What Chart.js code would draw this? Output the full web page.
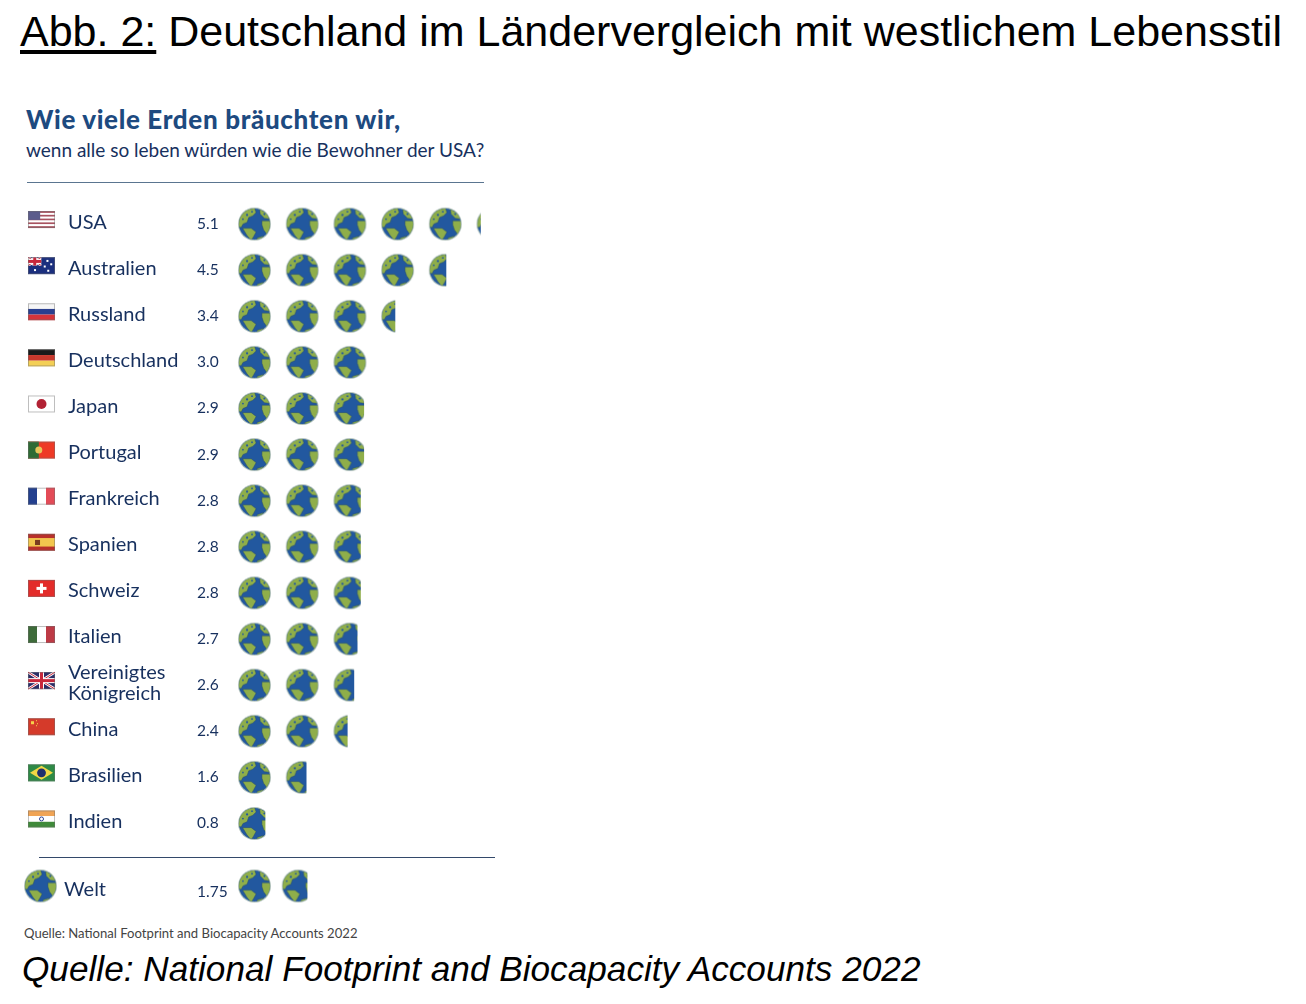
<!DOCTYPE html>
<html lang="de">
<head>
<meta charset="utf-8">
<title>Abb. 2</title>
<script src="https://cdn.jsdelivr.net/npm/chart.js@4"></script>
<style>
  html, body { margin: 0; background: #fff; }
  body { position: relative; width: 1306px; height: 1004px; overflow: hidden; }
  canvas, .txt, .rule { position: absolute; }
  .txt { white-space: nowrap; line-height: 1; }
  .rule { height: 1px; }
  #head { left: 20px; top: 7px; font: 43px "Liberation Sans", sans-serif; color: #000; }
  #head u { text-underline-offset: 4px; }
  #foot { left: 22px; top: 949px; font: italic 35.2px "Liberation Sans", sans-serif; color: #000; }
  #title { left: 26px; top: 103px; font: 900 26px Lato, sans-serif; color: #1d4a80; letter-spacing: 0.65px; }
  #sub { left: 26px; top: 138px; font: 19px Lato, sans-serif; color: #17305e; }
  #src { left: 24px; top: 925px; font: 13.1px Lato, sans-serif; color: #444; }
  #rule1 { left: 27px; top: 182px; width: 457px; background: #5a7590; }
  #rule2 { left: 39px; top: 857px; width: 456px; background: #33496a; }
</style>
</head>
<body>
<div class="txt" id="head"><u>Abb. 2:</u> Deutschland im Ländervergleich mit westlichem Lebensstil</div>
<div class="txt" id="title">Wie viele Erden bräuchten wir,</div>
<div class="txt" id="sub">wenn alle so leben würden wie die Bewohner der USA?</div>
<div class="rule" id="rule1"></div>
<canvas id="mainChart" width="520" height="860" style="left:0;top:0"></canvas>
<div class="rule" id="rule2"></div>
<canvas id="worldChart" width="520" height="46" style="left:0;top:863px"></canvas>
<div class="txt" id="src">Quelle: National Footprint and Biocapacity Accounts 2022</div>
<div class="txt" id="foot">Quelle: National Footprint and Biocapacity Accounts 2022</div>

<script>
var countries = ["USA", "Australien", "Russland", "Deutschland", "Japan", "Portugal", "Frankreich",
  "Spanien", "Schweiz", "Italien", ["Vereinigtes", "Königreich"], "China", "Brasilien", "Indien"];
var earths = [5.1, 4.5, 3.4, 3.0, 2.9, 2.9, 2.8, 2.8, 2.8, 2.7, 2.6, 2.4, 1.6, 0.8];
var flagCodes = ["us", "au", "ru", "de", "jp", "pt", "fr", "es", "ch", "it", "gb", "cn", "br", "in"];
var worldLabels = ["Welt"];
var worldEarths = [1.75];

var LABEL_COLOR = "#17305e";
var GLOBE = 33;

// one earth, drawn once and stamped for every unit
var globeImg = makeGlobe();

function makeGlobe() {
  var c = document.createElement("canvas");
  c.width = c.height = GLOBE + 2;
  var g = c.getContext("2d");
  var r = GLOBE / 2;
  g.filter = "blur(0.4px)";
  g.translate(c.width / 2, c.height / 2);
  g.beginPath();
  g.arc(0, 0, r, 0, Math.PI * 2);
  g.fillStyle = "#aebfb8";
  g.fill();
  g.beginPath();
  g.arc(0, 0, r - 1, 0, Math.PI * 2);
  g.fillStyle = "#22589f";
  g.fill();
  g.clip();
  var land = [
    [[-1, -0.1], [-0.85, -0.6], [-0.45, -0.9], [0, -0.98], [0.1, -0.7], [-0.1, -0.5], [-0.35, -0.4], [-0.45, -0.1], [-0.7, 0], [-0.8, 0.2], [-1, 0.2]],
    [[0.3, -0.92], [0.75, -0.65], [0.98, -0.3], [0.6, -0.35], [0.35, -0.6]],
    [[0.45, -0.2], [1, -0.2], [1, 0.5], [0.75, 0.62], [0.55, 0.35], [0.45, 0.05]],
    [[-0.72, 0.25], [-0.2, 0.25], [0.1, 0.48], [-0.05, 0.75], [-0.2, 1], [-0.45, 0.7]],
    [[0.15, 0.85], [0.55, 0.72], [0.4, 1], [0.15, 1]]
  ];
  land.forEach(function (poly) {
    g.beginPath();
    poly.forEach(function (p, i) {
      if (i === 0) g.moveTo(p[0] * r, p[1] * r);
      else g.lineTo(p[0] * r, p[1] * r);
    });
    g.closePath();
    g.fillStyle = "#8fae4a";
    g.fill();
    g.lineWidth = 0.5;
    g.strokeStyle = "#2a4f6a";
    g.stroke();
  });
  // small inlets in the northern land
  g.fillStyle = "#22589f";
  [[-0.45, -0.55, 1.1], [-0.15, -0.75, 0.9], [-0.7, -0.3, 0.9], [0.6, -0.6, 1]].forEach(function (d) {
    g.beginPath();
    g.arc(d[0] * r, d[1] * r, d[2], 0, Math.PI * 2);
    g.fill();
  });
  return c;
}

function rect(ctx, color, x, y, w, h) {
  ctx.fillStyle = color;
  ctx.fillRect(x, y, w, h);
}

function stripesH(ctx, colors, x, y, w, h) {
  colors.forEach(function (col, i) {
    rect(ctx, col, x, y + i * h / colors.length, w, h / colors.length);
  });
}

function stripesV(ctx, colors, x, y, w, h) {
  colors.forEach(function (col, i) {
    rect(ctx, col, x + i * w / colors.length, y, w / colors.length, h);
  });
}

function unionJack(ctx, x, y, w, h) {
  rect(ctx, "#2b2c66", x, y, w, h);
  ctx.strokeStyle = "#fff";
  ctx.lineWidth = 2.6;
  ctx.beginPath();
  ctx.moveTo(x, y); ctx.lineTo(x + w, y + h);
  ctx.moveTo(x + w, y); ctx.lineTo(x, y + h);
  ctx.stroke();
  ctx.strokeStyle = "#c8283c";
  ctx.lineWidth = 1;
  ctx.stroke();
  rect(ctx, "#fff", x + w / 2 - 2.5, y, 5, h);
  rect(ctx, "#fff", x, y + h / 2 - 2.5, w, 5);
  rect(ctx, "#c8283c", x + w / 2 - 1.5, y, 3, h);
  rect(ctx, "#c8283c", x, y + h / 2 - 1.5, w, 3);
}

var flags = {
  us: function (ctx, x, y, w, h) {
    stripesH(ctx, ["#a8525f", "#fff", "#a8525f", "#fff", "#a8525f", "#fff", "#a8525f", "#fff", "#a8525f"], x, y, w, h);
    rect(ctx, "#5b5c8c", x, y, w * 0.45, h * 0.52);
  },
  au: function (ctx, x, y, w, h) {
    rect(ctx, "#1b2f7e", x, y, w, h);
    ctx.save();
    ctx.beginPath();
    ctx.rect(x, y, w * 0.5, h * 0.5);
    ctx.clip();
    unionJack(ctx, x, y, w * 0.5, h * 0.5);
    ctx.restore();
    [[0.72, 0.22], [0.86, 0.42], [0.62, 0.55], [0.75, 0.8], [0.26, 0.76]].forEach(function (s) {
      rect(ctx, "#fff", x + s[0] * w - 1, y + s[1] * h - 1, 2, 2);
    });
  },
  ru: function (ctx, x, y, w, h) {
    stripesH(ctx, ["#f6f6f6", "#2a3f8f", "#d5343a"], x, y, w, h);
  },
  de: function (ctx, x, y, w, h) {
    stripesH(ctx, ["#1a1a1a", "#c8382c", "#f3cf55"], x, y, w, h);
  },
  jp: function (ctx, x, y, w, h) {
    rect(ctx, "#fff", x, y, w, h);
    ctx.fillStyle = "#b22234";
    ctx.beginPath();
    ctx.arc(x + w / 2, y + h / 2, 5, 0, Math.PI * 2);
    ctx.fill();
  },
  pt: function (ctx, x, y, w, h) {
    rect(ctx, "#ee3a26", x, y, w, h);
    rect(ctx, "#2f6b34", x, y, w * 0.4, h);
    ctx.fillStyle = "#e8c65a";
    ctx.beginPath();
    ctx.arc(x + w * 0.4, y + h / 2, 3.5, 0, Math.PI * 2);
    ctx.fill();
  },
  fr: function (ctx, x, y, w, h) {
    stripesV(ctx, ["#23408f", "#fff", "#e34b57"], x, y, w, h);
  },
  es: function (ctx, x, y, w, h) {
    rect(ctx, "#b8302a", x, y, w, h);
    rect(ctx, "#f2c64e", x, y + h * 0.25, w, h * 0.5);
    rect(ctx, "#7a3b20", x + w * 0.26, y + h * 0.36, 5, h * 0.3);
  },
  ch: function (ctx, x, y, w, h) {
    rect(ctx, "#e32c2a", x, y, w, h);
    rect(ctx, "#fff", x + w / 2 - 5, y + h / 2 - 1.5, 10, 3);
    rect(ctx, "#fff", x + w / 2 - 1.5, y + h / 2 - 5, 3, 10);
  },
  it: function (ctx, x, y, w, h) {
    stripesV(ctx, ["#3e6b3a", "#fff", "#bd3a45"], x, y, w, h);
  },
  gb: unionJack,
  cn: function (ctx, x, y, w, h) {
    rect(ctx, "#d53a2a", x, y, w, h);
    rect(ctx, "#f5d24a", x + 3, y + 3, 3, 3);
    rect(ctx, "#f5d24a", x + 8, y + 2, 1, 1);
    rect(ctx, "#f5d24a", x + 9, y + 5, 1, 1);
    rect(ctx, "#f5d24a", x + 8, y + 7, 1, 1);
  },
  br: function (ctx, x, y, w, h) {
    rect(ctx, "#2d8a45", x, y, w, h);
    ctx.fillStyle = "#f0d745";
    ctx.beginPath();
    ctx.moveTo(x + 2, y + h / 2);
    ctx.lineTo(x + w / 2, y + 1.5);
    ctx.lineTo(x + w - 2, y + h / 2);
    ctx.lineTo(x + w / 2, y + h - 1.5);
    ctx.closePath();
    ctx.fill();
    ctx.fillStyle = "#1f2f6e";
    ctx.beginPath();
    ctx.arc(x + w / 2, y + h / 2, 4.4, 0, Math.PI * 2);
    ctx.fill();
  },
  in: function (ctx, x, y, w, h) {
    stripesH(ctx, ["#f0a455", "#fff", "#3f8a3a"], x, y, w, h);
    ctx.strokeStyle = "#2a3f8f";
    ctx.lineWidth = 1;
    ctx.beginPath();
    ctx.arc(x + w / 2, y + h / 2, 2, 0, Math.PI * 2);
    ctx.stroke();
  }
};

// stamps the earths along the x scale, the last one cut by the fraction of the value
var earthRows = {
  id: "earthRows",
  afterDatasetsDraw: function (chart, args, opts) {
    var ctx = chart.ctx;
    var xs = chart.scales.x;
    var values = chart.data.datasets[0].data;
    chart.getDatasetMeta(0).data.forEach(function (bar, i) {
      var v = values[i];
      for (var n = 0; n < v; n++) {
        var left = xs.getPixelForValue(n);
        var frac = Math.min(1, v - n);
        ctx.save();
        ctx.beginPath();
        ctx.rect(left - 1, bar.y - GLOBE, frac * GLOBE + 2, GLOBE * 2);
        ctx.clip();
        ctx.drawImage(globeImg, left - 1, bar.y - GLOBE / 2 - 1);
        ctx.restore();
      }
      // value column
      ctx.font = "15.5px Lato, sans-serif";
      ctx.fillStyle = LABEL_COLOR;
      ctx.textAlign = "left";
      ctx.textBaseline = "middle";
      ctx.fillText(opts.format(v), opts.valueX, bar.y + opts.textShift);
      // flag or world icon in front of the label
      var code = opts.codes && opts.codes[i];
      if (code) {
        ctx.save();
        ctx.filter = "blur(0.3px)";
        flags[code](ctx, 28, bar.y - 13, 27, 17);
        ctx.strokeStyle = "rgba(110,110,110,0.45)";
        ctx.lineWidth = 1;
        ctx.strokeRect(28.5, bar.y - 12.5, 26, 16);
        ctx.restore();
      } else if (!opts.codes) {
        ctx.drawImage(globeImg, 23, bar.y - GLOBE / 2 - 1);
      }
    });
  }
};

function pictoChart(id, labels, values, leftPad, unit, paddingTop, paddingBottom, labelShift, codes, format) {
  var axisWidth = 238 - leftPad;
  var xMax = 5.5;
  return new Chart(document.getElementById(id), {
    type: "bar",
    data: {
      labels: labels,
      datasets: [{ data: values, backgroundColor: "rgba(0,0,0,0)", barThickness: GLOBE }]
    },
    options: {
      indexAxis: "y",
      responsive: false,
      animation: false,
      layout: { padding: { left: leftPad, right: 520 - 238 - unit * xMax, top: paddingTop, bottom: paddingBottom } },
      scales: {
        x: { display: false, min: 0, max: xMax },
        y: {
          grid: { display: false },
          border: { display: false },
          afterFit: function (scale) { scale.width = axisWidth; },
          ticks: {
            crossAlign: "far",
            color: LABEL_COLOR,
            labelOffset: labelShift,
            autoSkip: false,
            font: { family: "Lato, sans-serif", size: 20, lineHeight: 1.05 }
          }
        }
      },
      plugins: {
        legend: { display: false },
        tooltip: { enabled: false },
        earthRows: { valueX: 197, codes: codes, format: format, textShift: labelShift + 2 }
      }
    },
    plugins: [earthRows]
  });
}

window.addEventListener("load", function () {
  pictoChart("mainChart", countries, earths, 68, 47.7, 201, 13, -2, flagCodes, function (v) { return v.toFixed(1); });
  pictoChart("worldChart", worldLabels, worldEarths, 64, 43.7, 0, 0, 4, null, function (v) { return String(v); });
});
</script>
</body>
</html>
